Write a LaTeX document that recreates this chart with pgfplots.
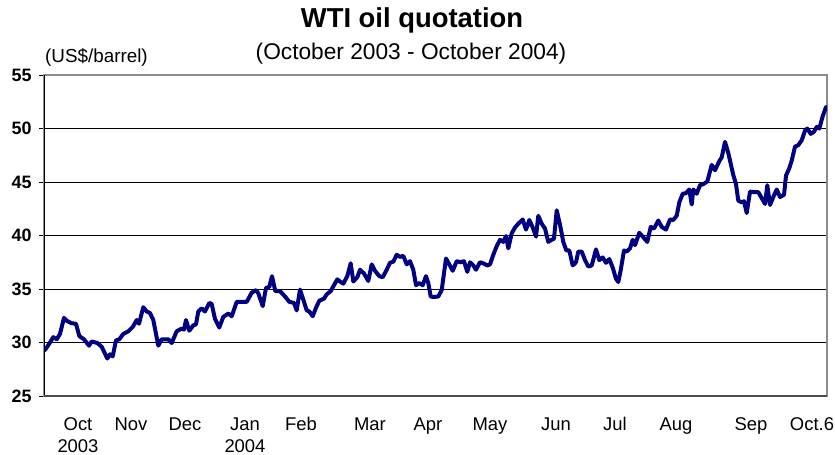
\documentclass[border=0pt]{standalone}
\usepackage{fontspec}
\setmainfont{Liberation Sans}
\usepackage{pgfplots}
\pgfplotsset{compat=1.18}
\definecolor{navyline}{RGB}{0,0,128}
\definecolor{framegray}{RGB}{140,140,140}
\begin{document}
\begin{tikzpicture}
\begin{axis}[
  name=ax,
  scale only axis, width=783bp, height=321bp,
  xmin=44, xmax=827, ymin=25, ymax=55,
  ytick={25,30,35,40,45,50,55},
  ymajorgrids, grid style={black, line width=0.8pt},
  xtick={78,131,185,245,301,370,428,490,556,615,676,751,812},
  xticklabels={Oct\\2003,Nov,Dec,Jan\\2004,Feb,Mar,Apr,May,Jun,Jul,Aug,Sep,Oct.6},
  xticklabel style={align=center, font=\fontsize{18.5}{22}\selectfont, anchor=north, yshift=-13bp},
  x tick style={draw=none},
  y tick style={black, line width=0.8pt},
  tick align=outside, major tick length=5bp,
  tick pos=left,
  yticklabel style={font=\bfseries\fontsize{18}{20}\selectfont, xshift=-4bp},
  /pgf/number format/assume math mode=true,
  axis line style={framegray, line width=1.2pt},
]
\addplot[navyline, line width=4pt, line join=round, line cap=round] coordinates {
(45,29.3) (50,30.0) (53.3,30.5) (56.7,30.3) (60,30.8) (64,32.3) (67.3,32.0) (71.7,31.8)
(76,31.75) (79.3,30.6) (84,30.3) (89,29.7) (91.7,30.1) (97.3,29.95) (101.7,29.6) (107.3,28.5)
(110,28.9) (112.7,28.7) (116,30.2) (119.3,30.3) (123.3,30.8) (128.3,31.05) (132.7,31.45)
(136.7,32.1) (139,31.75) (143.3,33.3) (146.7,32.9) (150,32.75) (153.3,32.1) (158.3,29.7)
(161.7,30.3) (168.3,30.3) (171.7,29.95) (176.7,31.05) (181.7,31.3) (184,31.2) (186,32.1)
(189.3,31.1) (193.3,31.6) (196,31.7) (198.3,32.9) (201.7,33.2) (205,32.9) (209.3,33.7)
(211.7,33.6) (215,32.2) (219.3,31.4) (223.3,32.4) (228.3,32.7) (231.7,32.45) (236.7,33.8)
(243.3,33.8) (246.7,33.8) (251.7,34.65) (256,34.9) (258.3,34.6) (262.7,33.4) (266,35.1)
(269.3,35.2) (272,36.2) (275.3,34.8) (280,34.8) (285,34.3) (289.3,33.8) (294,33.7)
(296.7,33.0) (300,34.95) (303.3,34.0) (306.7,33.0) (309.3,32.9) (312.7,32.45) (316,33.25)
(319.3,33.9) (324,34.1) (326.7,34.5) (330.7,34.8) (333.3,35.25) (337.3,35.9) (340,35.7)
(343.3,35.5) (347.3,36.2) (350.7,37.4) (353.3,35.7) (357.3,36.1) (360,36.8) (364,36.45)
(368.3,35.75) (371.7,37.3) (375,36.7) (379.3,36.2) (382.7,36.1) (386.7,36.8) (390,37.45)
(393.3,37.55) (396.7,38.2) (400,38.0) (403.3,38.1) (406.7,37.3) (410,37.6) (413.3,36.8)
(416,35.35) (419.3,35.55) (422.7,35.35) (426,36.2) (428.3,35.55) (430.7,34.3) (433.3,34.25)
(438.3,34.3) (441.7,34.9) (446,37.85) (449.3,37.3) (452.7,36.7) (456.7,37.6) (460.7,37.5)
(464,37.6) (467.3,36.6) (470,37.5) (473.3,37.2) (476,36.8) (480,37.5) (483.3,37.4)
(487.3,37.2) (490,37.3) (493.3,38.2) (496.7,39.0) (500,39.6) (503.3,39.4) (506,39.95)
(508.3,38.8) (511.7,40.2) (515,40.75) (518.3,41.1) (522.7,41.5) (526,40.55) (529.3,41.45)
(532.7,40.75) (536,39.9) (538.3,41.85) (541.7,41.1) (545,40.65) (548.3,39.4) (551.7,39.6)
(554,39.7) (556.7,42.35) (560,41.0) (563.3,39.4) (566.3,38.6) (569.3,38.6) (572.7,37.2)
(576,37.5) (578.3,38.5) (581.7,38.5) (585,37.7) (588.3,37.1) (591.7,37.2) (596,38.7)
(599.3,37.7) (602.7,37.95) (606,37.45) (609.3,37.8) (612.7,37.0) (616,35.95) (618.3,35.65)
(620.7,36.75) (624,38.6) (626.7,38.5) (630,38.8) (632.7,39.6) (635,39.1) (639.3,40.25)
(642.7,39.9) (647.3,39.4) (650.7,40.8) (654,40.65) (658.3,41.4) (661.7,40.8) (666,40.55)
(670,41.5) (673.3,41.45) (676.7,41.85) (679.3,43.1) (682.7,43.9) (686,43.96) (689.3,44.3)
(691.7,42.9) (693.3,44.3) (696.7,43.9) (700,44.7) (703.3,44.8) (707.3,45.05) (711.7,46.6)
(715,46.1) (719.3,46.95) (721.7,47.3) (725,48.75) (728.3,47.7) (733.3,45.65) (736,44.8)
(738.3,43.25) (741.7,43.1) (744,43.2) (746.7,42.1) (750,44.1) (754,44.05) (758.3,44.05)
(761.7,43.5) (765,42.95) (767.3,44.7) (770,42.85) (773.3,43.6) (776.7,44.3) (780,43.6)
(784,43.8) (786,45.6) (789.3,46.3) (791.7,47.0) (795,48.3) (798.3,48.45) (801.7,48.9)
(805,49.8) (807.3,50.0) (810.7,49.5) (814,49.7) (816.7,50.15) (819.3,50.0) (822.7,51.15)
(826,52.0)
};
\draw[black, line width=1.2pt] (rel axis cs:0,0) -- (rel axis cs:0,1);
\draw[black!70, line width=1.2pt] (rel axis cs:0,0) -- (rel axis cs:1,0);
\end{axis}
\node[font=\bfseries\fontsize{27.5}{30}\selectfont] at ([shift={(368bp,55bp)}]ax.north west) {WTI oil quotation};
\node[font=\fontsize{22.8}{26}\selectfont] at ([shift={(367bp,21bp)}]ax.north west) {(October 2003 - October 2004)};
\node[font=\fontsize{18.9}{21}\selectfont, anchor=west, inner sep=0pt] at ([shift={(1bp,18bp)}]ax.north west) {(US\$/barrel)};
\pgfresetboundingbox
\path ([shift={(-44bp,-59bp)}]ax.south west) rectangle ([shift={(8bp,75bp)}]ax.north east);
\end{tikzpicture}
\end{document}
